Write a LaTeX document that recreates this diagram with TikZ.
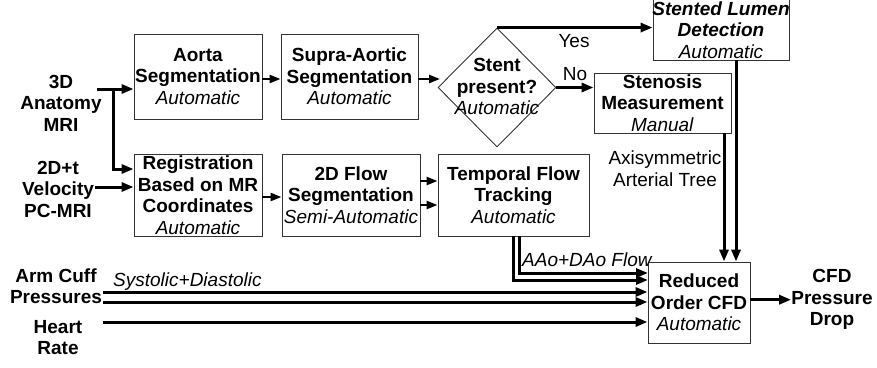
\documentclass[tikz,border=0pt]{standalone}
\usepackage{fontspec}
\setmainfont{Liberation Sans}
\usetikzlibrary{shapes.geometric,arrows.meta}
\begin{document}
\begin{tikzpicture}[x=1pt,y=-1pt,
  txt/.style={inner sep=0pt, align=center, font=\fontsize{19}{21.5}\selectfont},
  box/.style={txt, draw=black!80, line width=0.9pt},
  arr/.style={line width=3pt, -{Triangle[length=12pt,width=9pt]}},
  sarr/.style={line width=2.4pt, -{Triangle[length=11pt,width=8pt]}},
  ln/.style={line width=3pt}]
\useasboundingbox (0,0) rectangle (877,367);

% process boxes
\node[box, minimum width=128, minimum height=85] (aorta) at (198,76.5)
  {\textbf{Aorta}\\\textbf{Segmentation}\\\textit{Automatic}};
\node[box, minimum width=137, minimum height=85] (supra) at (349.5,76.5)
  {\textbf{Supra-Aortic}\\\textbf{Segmentation}\\\textit{Automatic}};
\node[draw=black!80, line width=0.9pt, diamond, inner sep=0pt,
  minimum width=118, minimum height=119] (dia) at (497,87.5) {};
\node[txt] (diaT) at (497,86.7) {\textbf{Stent}\\\textbf{present?}\\\textit{Automatic}};
\node[box, minimum width=136, minimum height=68] (stent) at (721,26) {};
\node[txt] (stentT) at (721,30)
  {\textbf{\textit{Stented Lumen}}\\\textbf{\textit{Detection}}\\\textit{Automatic}};
\node[box, minimum width=137, minimum height=60] (sten) at (662.5,103)
  {\textbf{Stenosis}\\\textbf{Measurement}\\\textit{Manual}};
\node[box, minimum width=128, minimum height=82] (reg) at (198,195)
  {\textbf{Registration}\\\textbf{Based on MR}\\\textbf{Coordinates}\\\textit{Automatic}};
\node[box, minimum width=138, minimum height=82] (flow) at (351,195)
  {\textbf{2D Flow}\\\textbf{Segmentation}\\\textit{Semi-Automatic}};
\node[box, minimum width=151, minimum height=82] (temp) at (513.5,195)
  {\textbf{Temporal Flow}\\\textbf{Tracking}\\\textit{Automatic}};
\node[box, minimum width=102, minimum height=81] (red) at (699,302.5)
  {\textbf{Reduced}\\\textbf{Order CFD}\\\textit{Automatic}};

% inputs and outputs
\node[txt] (in3T) at (61,103) {\textbf{3D}\\\textbf{Anatomy}\\\textbf{MRI}};
\node[txt] (in2T) at (58,189) {\textbf{2D+t}\\\textbf{Velocity}\\\textbf{PC-MRI}};
\node[txt] (armT) at (56,286) {\textbf{Arm Cuff}\\\textbf{Pressures}};
\node[txt] (hrT) at (58,337.7) {\textbf{Heart}\\\textbf{Rate}};
\node[txt] (cfd) at (832,299.7) {\textbf{CFD}\\\textbf{Pressure}\\\textbf{Drop}};

% labels
\node[txt, anchor=base] (yes) at (574,47) {Yes};
\node[txt, anchor=base] (no) at (575,80) {No};
\node[txt, align=center] (axi) at (665,168.7) {Axisymmetric\\Arterial Tree};
\node[txt, anchor=base west] (sysd) at (113,286) {\textit{Systolic+Diastolic}};
\node[txt, anchor=base west] (aao) at (522,266) {\textit{AAo+DAo Flow}};

% coordinates
\coordinate (in3) at (97,89);
\coordinate (j1) at (113,89);
\coordinate (j2) at (113,169);
\coordinate (in2) at (95,187);
\coordinate (s1) at (262,79);
\coordinate (s2) at (418,79);
\coordinate (s3) at (440,79);
\coordinate (r1) at (262,197);
\coordinate (f1) at (420,181);
\coordinate (f2) at (420,205);
\coordinate (a1) at (103,292);
\coordinate (a2) at (103,302);
\coordinate (h1) at (103,322);
\coordinate (t1) at (648,273);
\coordinate (t2) at (648,280);

% connectors
\draw[arr] (in3) -- (in3 -| aorta.west);
\draw[arr] (j1) -- (j2) -- (j2 -| reg.west);
\draw[arr] (in2) -- (in2 -| reg.west);
\draw[sarr] (s1) -- (s1 -| supra.west);
\draw[sarr] (s2) -- (s3);
\draw[sarr] (r1) -- (r1 -| flow.west);
\draw[sarr] (f1) -- (f1 -| temp.west);
\draw[sarr] (f2) -- (f2 -| temp.west);
\draw[arr] (dia.north) -- (dia.north -| stent.west);
\draw[arr] (dia.east) -- (dia.east -| sten.west);
\draw[arr] ([xshift=61.5pt]sten.south) -- ([xshift=61.5pt]sten.south |- red.north);
\draw[arr] ([xshift=15pt]stent.south) -- ([xshift=15pt]stent.south |- red.north);
\draw[arr] ([xshift=5.5pt]temp.south) |- (t1);
\draw[arr] ([xshift=-0.5pt]temp.south) |- (t2);
\draw[arr] (a1) -- (a1 -| red.west);
\draw[arr] (a2) -- (a2 -| red.west);
\draw[arr] (h1) -- (h1 -| red.west);
\draw[arr] (cfd.west -| red.east) -- (cfd.west);
\end{tikzpicture}
\end{document}
